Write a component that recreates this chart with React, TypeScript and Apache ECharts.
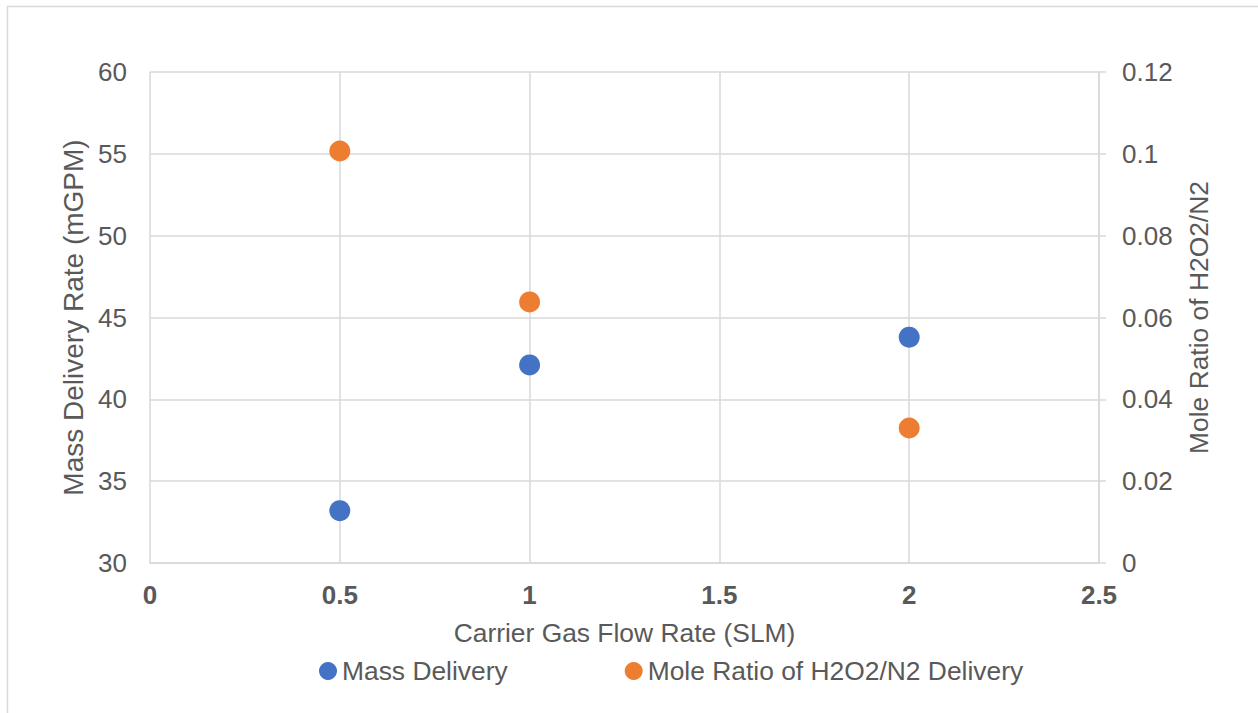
import React, { useEffect, useRef } from "react";
import * as echarts from "echarts";

const flowRates = [0.5, 1, 2];
const massDelivery = [33.2, 42.1, 43.8];
const moleRatio = [0.1007, 0.0638, 0.033];
const seriesNames = ["Mass Delivery", "Mole Ratio of H2O2/N2 Delivery"];

export default function App() {
  const ref = useRef<HTMLDivElement>(null);
  useEffect(() => {
    const chart = echarts.init(ref.current!, null, { renderer: "svg" });
    const font = "Liberation Sans, Arial, sans-serif";
    const txt = "#595959";
    const grid = "#d9d9d9";
    const fs = 26;
    chart.setOption({
      animation: false,
      textStyle: { fontFamily: font },
      graphic: [
        {
          type: "rect",
          shape: { x: 7.5, y: 6.5, width: 1270, height: 720 },
          style: { fill: "none", stroke: grid, lineWidth: 1.5 },
          silent: true,
        },
      ],
      grid: { left: 150, right: 159, top: 72, bottom: 150 },
      legend: {
        left: 314,
        top: 653,
        itemWidth: 18,
        itemHeight: 18,
        itemGap: 117,
        icon: "circle",
        textStyle: { fontSize: 26.4, color: txt, fontFamily: font },
        data: seriesNames,
      },
      xAxis: {
        type: "value",
        min: 0,
        max: 2.5,
        interval: 0.5,
        name: "Carrier Gas Flow Rate (SLM)",
        nameLocation: "middle",
        nameGap: 57,
        nameTextStyle: { fontSize: 26.4, color: txt, fontFamily: font },
        axisLine: { show: true, onZero: false, lineStyle: { color: grid, width: 1.5 } },
        axisTick: { show: false },
        axisLabel: { fontSize: fs, fontWeight: "bold", color: txt, margin: 19, fontFamily: font },
        splitLine: { show: true, lineStyle: { color: grid, width: 1.5 } },
      },
      yAxis: [
        {
          type: "value",
          min: 30,
          max: 60,
          interval: 5,
          position: "left",
          name: "Mass Delivery Rate (mGPM)",
          nameLocation: "middle",
          nameGap: 59,
          nameTextStyle: { fontSize: 28, color: txt, fontFamily: font },
          axisLine: { show: false },
          axisTick: { show: false },
          axisLabel: { fontSize: fs, color: txt, margin: 23, fontFamily: font },
          splitLine: { show: true, lineStyle: { color: grid, width: 1.5 } },
        },
        {
          type: "value",
          min: 0,
          max: 0.12,
          interval: 0.02,
          position: "right",
          name: "Mole Ratio of H2O2/N2",
          nameLocation: "middle",
          nameGap: 87,
          nameRotate: 90,
          nameTextStyle: { fontSize: 26.4, color: txt, fontFamily: font },
          axisLine: { show: true, lineStyle: { color: grid, width: 1.5 } },
          axisTick: { show: true, length: 7, lineStyle: { color: grid, width: 1.5 } },
          axisLabel: { fontSize: fs, color: txt, margin: 23, fontFamily: font },
          splitLine: { show: false },
        },
      ],
      series: [
        {
          name: seriesNames[0],
          type: "scatter",
          yAxisIndex: 0,
          symbolSize: 21,
          itemStyle: { color: "#4472C4", opacity: 1 },
          data: flowRates.map((x, i) => [x, massDelivery[i]]),
        },
        {
          name: seriesNames[1],
          type: "scatter",
          yAxisIndex: 1,
          symbolSize: 21,
          itemStyle: { color: "#ED7D31", opacity: 1 },
          data: flowRates.map((x, i) => [x, moleRatio[i]]),
        },
      ],
    });
    return () => chart.dispose();
  }, []);
  return (
    <div
      ref={ref}
      style={{ position: "absolute", left: 0, top: 0, width: 1258, height: 713, background: "#fff" }}
    />
  );
}
